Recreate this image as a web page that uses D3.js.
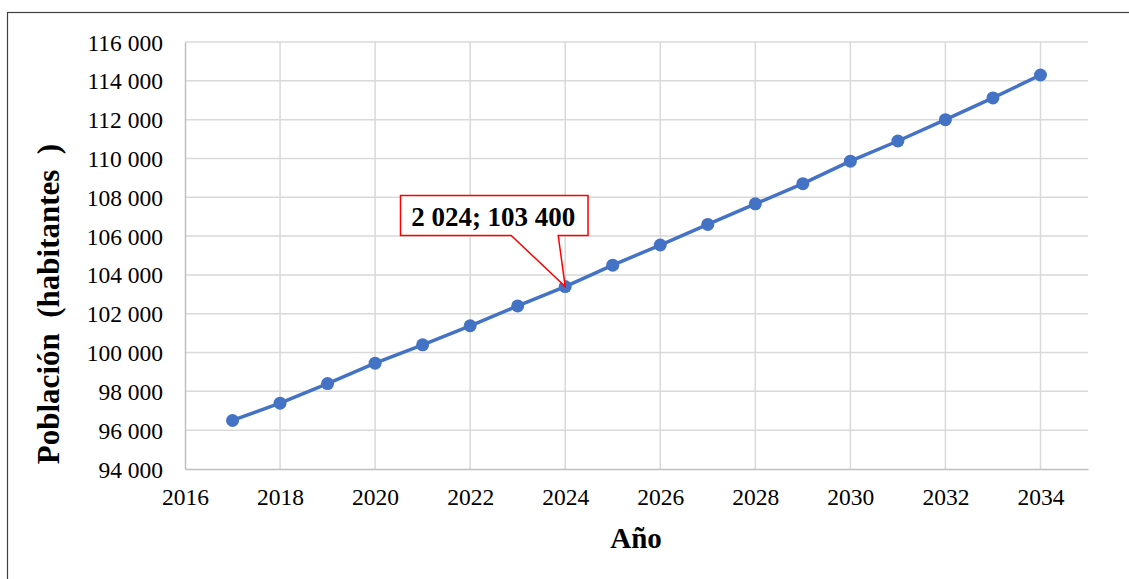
<!DOCTYPE html>
<html>
<head>
<meta charset="utf-8">
<script src="https://cdn.jsdelivr.net/npm/d3@7"></script>
<style>
  html, body { margin: 0; padding: 0; background: #fff; }
  svg { display: block; }
  text { font-family: "Liberation Serif", "Times New Roman", serif; fill: #000; }
</style>
</head>
<body>
<svg id="chart" width="1129" height="579"></svg>
<script>
// Projected population by year
const years = [2017, 2018, 2019, 2020, 2021, 2022, 2023, 2024, 2025,
               2026, 2027, 2028, 2029, 2030, 2031, 2032, 2033, 2034];
const population = [96500, 97390, 98400, 99450, 100400, 101380, 102400, 103400, 104500,
                    105540, 106600, 107660, 108700, 109860, 110900, 112000, 113120, 114300];
const xTicks = [2016, 2018, 2020, 2022, 2024, 2026, 2028, 2030, 2032, 2034];
const yTicks = [94000, 96000, 98000, 100000, 102000, 104000, 106000, 108000, 110000, 112000, 114000, 116000];
const highlightYear = 2024;
const highlightLabel = "2 024; 103 400";
const xTitle = "Año";
const yTitle = "Población  (habitantes  )";

const svg = d3.select("#chart");
const plotLeft = 185, plotRight = 1088, plotTop = 42, plotBottom = 469;

const x = d3.scaleLinear().domain([2016, 2035]).range([plotLeft, plotRight]);
const y = d3.scaleLinear().domain([94000, 116000]).range([plotBottom, plotTop]);

// thousands grouped with a space
const fmt = v => d3.format(",")(v).replace(/,/g, " ");

// outer frame
svg.append("rect")
  .attr("x", 7.5).attr("y", 12.5).attr("width", 1200).attr("height", 700)
  .attr("fill", "none").attr("stroke", "#404040").attr("stroke-width", 1.2);

// gridlines
const grid = svg.append("g");
grid.selectAll("line.h").data(yTicks.slice(1)).join("line")
  .attr("x1", plotLeft).attr("x2", plotRight)
  .attr("y1", d => y(d)).attr("y2", d => y(d))
  .attr("stroke", "#d9d9d9").attr("stroke-width", 1.5);
grid.selectAll("line.v").data(xTicks.slice(1)).join("line")
  .attr("y1", plotTop).attr("y2", plotBottom)
  .attr("x1", d => x(d)).attr("x2", d => x(d))
  .attr("stroke", "#d9d9d9").attr("stroke-width", 1.5);

// axes
const yAxis = d3.axisLeft(y).tickValues(yTicks).tickFormat(fmt).tickSize(0).tickPadding(22);
const gy = svg.append("g").attr("transform", `translate(${plotLeft},0)`).call(yAxis);
gy.select(".domain").attr("stroke", "#bfbfbf").attr("stroke-width", 1.5);
gy.selectAll("text").attr("font-size", 23.5).attr("font-family", "Liberation Serif").attr("dy", "0.34em");

const xAxis = d3.axisBottom(x).tickValues(xTicks).tickFormat(d3.format("d")).tickSize(0).tickPadding(19);
const gx = svg.append("g").attr("transform", `translate(0,${plotBottom})`).call(xAxis);
gx.select(".domain").attr("stroke", "#bfbfbf").attr("stroke-width", 1.5);
gx.selectAll("text").attr("font-size", 23.5).attr("font-family", "Liberation Serif");

// axis titles
svg.append("text")
  .attr("x", (plotLeft + plotRight) / 2 - 0.5).attr("y", 548)
  .attr("text-anchor", "middle").attr("font-size", 29).attr("font-weight", "bold")
  .text(xTitle);
svg.append("text")
  .attr("transform", "translate(59,304) rotate(-90)")
  .attr("text-anchor", "middle").attr("font-size", 31).attr("font-weight", "bold")
  .attr("xml:space", "preserve").style("white-space", "pre")
  .text(yTitle);

// series
const pts = years.map((d, i) => [d, population[i]]);
svg.append("path")
  .datum(pts)
  .attr("fill", "none").attr("stroke", "#4472c4").attr("stroke-width", 3.5)
  .attr("stroke-linejoin", "round")
  .attr("d", d3.line().x(d => x(d[0])).y(d => y(d[1])));
svg.append("g").selectAll("circle").data(pts).join("circle")
  .attr("cx", d => x(d[0])).attr("cy", d => y(d[1])).attr("r", 6.5)
  .attr("fill", "#4472c4");

// callout for the highlighted point
const hi = pts[years.indexOf(highlightYear)];
const px = x(hi[0]), py = y(hi[1]);
const bx = 400.5, by = 195.5, bw = 187.5, bh = 40;
const callout = svg.append("g");
callout.append("path")
  .attr("d", `M${bx},${by} H${bx + bw} V${by + bh} H${px - 7} L${px},${py} L${px - 54},${by + bh} H${bx} Z`)
  .attr("fill", "#fff").attr("stroke", "#ff0000").attr("stroke-width", 1.5);
callout.append("text")
  .attr("x", bx + bw / 2 - 1).attr("y", by + 30)
  .attr("text-anchor", "middle").attr("font-size", 27).attr("font-weight", "bold")
  .text(highlightLabel);
</script>
</body>
</html>
